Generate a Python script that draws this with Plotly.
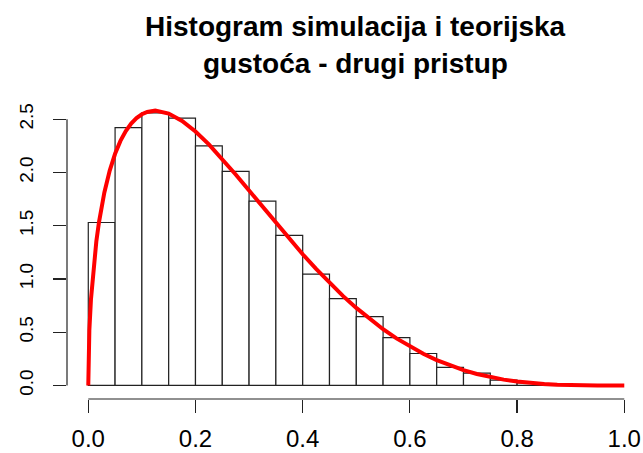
import plotly.graph_objects as go

# Histogram bins (left edges) and densities
bin_left = [0.00, 0.05, 0.10, 0.15, 0.20, 0.25, 0.30, 0.35, 0.40, 0.45,
            0.50, 0.55, 0.60, 0.65, 0.70, 0.75, 0.80, 0.85]
bin_density = [1.53, 2.42, 2.56, 2.51, 2.25, 2.01, 1.73, 1.41, 1.045, 0.816,
               0.647, 0.45, 0.30, 0.17, 0.115, 0.05, 0.025, 0.006]
bin_width = 0.05

# Theoretical density curve
curve_x = [0.0, 0.0005, 0.001, 0.002, 0.005, 0.01, 0.015, 0.02, 0.03, 0.04,
           0.05, 0.06, 0.07, 0.08, 0.09, 0.10, 0.11, 0.125, 0.14, 0.15,
           0.175, 0.20, 0.225, 0.25, 0.275, 0.30, 0.325, 0.35, 0.375, 0.40,
           0.425, 0.45, 0.475, 0.50, 0.525, 0.55, 0.575, 0.60, 0.625, 0.65,
           0.675, 0.70, 0.725, 0.75, 0.775, 0.80, 0.825, 0.85, 0.875, 0.90,
           0.95, 1.0]
curve_y = [0.0, 0.260, 0.367, 0.517, 0.809, 1.124, 1.352, 1.534, 1.812, 2.018,
           2.175, 2.296, 2.389, 2.459, 2.510, 2.546, 2.568, 2.580, 2.569, 2.553,
           2.484, 2.384, 2.263, 2.127, 1.981, 1.830, 1.677, 1.525, 1.376, 1.232,
           1.094, 0.964, 0.841, 0.728, 0.623, 0.528, 0.442, 0.365, 0.297, 0.238,
           0.187, 0.144, 0.108, 0.079, 0.055, 0.037, 0.024, 0.014, 0.0075, 0.0035,
           0.0003, 0.0]

x_ticks = [0.0, 0.2, 0.4, 0.6, 0.8, 1.0]
x_ticktext = ["0.0", "0.2", "0.4", "0.6", "0.8", "1.0"]
y_ticks = [0.0, 0.5, 1.0, 1.5, 2.0, 2.5]
y_ticktext = ["0.0", "0.5", "1.0", "1.5", "2.0", "2.5"]

title_lines = ["Histogram simulacija i teorijska", "gustoća - drugi pristup"]

FONT = "Liberation Sans, Arial, sans-serif"

fig = go.Figure()
fig.add_trace(go.Bar(
    x=[b + bin_width / 2 for b in bin_left],
    y=bin_density,
    width=bin_width,
    marker=dict(color="white", line=dict(color="#222222", width=1.2)),
    hoverinfo="skip",
))
fig.add_trace(go.Scatter(
    x=curve_x, y=curve_y, mode="lines",
    line=dict(color="#ff0000", width=4),
    hoverinfo="skip",
))

# R-style detached axis lines spanning only the tick range
fig.add_shape(type="line", xref="x", yref="paper",
              x0=x_ticks[0], x1=x_ticks[-1], y0=0, y1=0,
              line=dict(color="#222222", width=1.2))
fig.add_shape(type="line", xref="paper", yref="y",
              x0=0, x1=0, y0=y_ticks[0], y1=y_ticks[-1],
              line=dict(color="#222222", width=1.2))

# Two-line bold title
for i, (line, ypix) in enumerate(zip(title_lines, [27, 63.5])):
    fig.add_annotation(text="<b>" + line + "</b>", showarrow=False,
                       xref="paper", yref="paper",
                       x=(355 - 67) / (643 - 67), xanchor="center",
                       y=1 + (100 - ypix) / (453 - 154), yanchor="middle",
                       font=dict(size=28, family=FONT, color="black"))

fig.update_layout(
    width=643, height=453,
    margin=dict(l=67, r=0, t=100, b=54),
    paper_bgcolor="white", plot_bgcolor="white",
    showlegend=False,
    bargap=0,
    font=dict(family=FONT, color="black"),
    xaxis=dict(range=[-0.0397, 1.0349], tickvals=x_ticks, ticktext=x_ticktext,
               ticks="outside", ticklen=13, tickwidth=1.2, tickcolor="#222222",
               showgrid=False, zeroline=False, showline=False,
               automargin=False,
               tickfont=dict(size=24, family=FONT, color="black"),
               ticklabelstandoff=5),
    yaxis=dict(range=[-0.127, 2.68], tickvals=y_ticks, ticktext=y_ticktext,
               ticks="outside", ticklen=13, tickwidth=1.2, tickcolor="#222222",
               showgrid=False, zeroline=False, showline=False,
               automargin=False,
               tickangle=-90,
               tickfont=dict(size=19, family=FONT, color="black"),
               ticklabelstandoff=12),
)

fig.write_html("out.html",
               config={"displayModeBar": False, "staticPlot": True},
               post_script="document.body.style.margin='0';document.body.style.overflow='hidden';")
